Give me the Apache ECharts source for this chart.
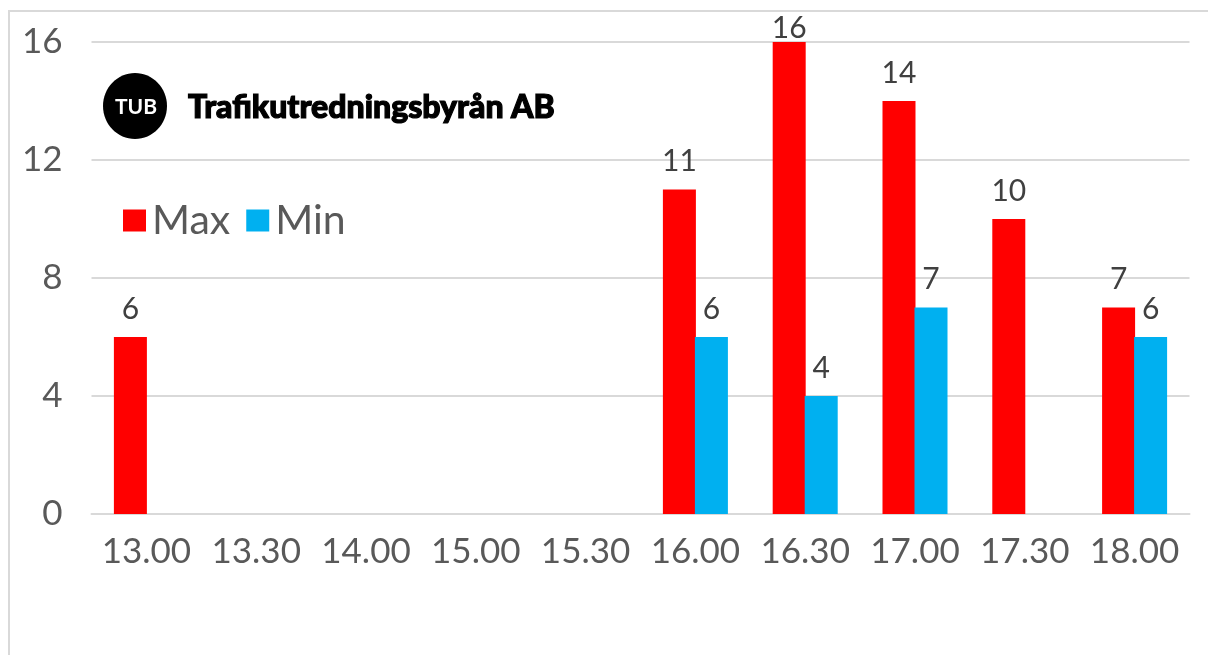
<!DOCTYPE html>
<html>
<head>
<meta charset="utf-8">
<style>html,body{margin:0;padding:0;background:#fff}#chart{width:1208px;height:655px}</style>
<script src="https://cdn.jsdelivr.net/npm/echarts@6/dist/echarts.min.js"></script>
</head>
<body>
<div id="chart"></div>
<script>
const times = ['13.00','13.30','14.00','15.00','15.30','16.00','16.30','17.00','17.30','18.00'];
const maxValues = [6,null,null,null,null,11,16,14,10,7];
const minValues = [null,null,null,null,null,6,4,7,null,6];
const yTicks = [0,4,8,12,16];

const fontFamily = 'Lato, "Open Sans", sans-serif';
const chart = echarts.init(document.getElementById('chart'), null, {renderer:'canvas'});

const valueLabel = {
  show:true, position:'top', distance:13,
  fontFamily, fontSize:30, color:'#404040'
};

// The tallest bar reaches the top of the plot, so its label sits tight against it.
const maxData = maxValues.map(v => v === 16 ? {value:v, label:{distance:-1}} : v);

chart.setOption({
  animation:false,
  backgroundColor:'#fff',
  grid:{left:91.5, right:18.5, top:42, bottom:141, containLabel:false},
  legend:{
    left:118, top:195, itemGap:16, itemWidth:23, itemHeight:22,
    icon:'rect', selectedMode:false,
    data:['Max','Min'],
    textStyle:{fontFamily, fontSize:41, color:'#595959', padding:[0,0,4,1]}
  },
  xAxis:{
    type:'category', data:times,
    axisTick:{show:false},
    axisLine:{lineStyle:{color:'#d9d9d9', width:2}},
    axisLabel:{fontFamily, fontSize:35, color:'#595959', margin:20, interval:0}
  },
  yAxis:{
    type:'value', min:0, max:16, interval:4,
    axisLine:{show:false}, axisTick:{show:false},
    splitLine:{lineStyle:{color:'#d9d9d9', width:2}},
    axisLabel:{
      fontFamily, fontSize:35, color:'#595959', margin:29,
      formatter:v => yTicks.includes(v) ? String(v) : ''
    }
  },
  series:[
    {name:'Max', type:'bar', data:maxData, barWidth:33, barGap:'-3%',
     itemStyle:{color:'#ff0000'}, label:valueLabel},
    {name:'Min', type:'bar', data:minValues, barWidth:33,
     itemStyle:{color:'#00b0f0'}, label:valueLabel}
  ],
  graphic:[
    {type:'rect', silent:true, z:0,
     shape:{x:9,y:11,width:1300,height:800},
     style:{fill:'none', stroke:'#d9d9d9', lineWidth:2}},
    {type:'ellipse', silent:true, z:10,
     shape:{cx:135,cy:106,rx:32,ry:33}, style:{fill:'#000'}},
    {type:'text', silent:true, z:11, x:136, y:107,
     style:{text:'TUB', fill:'#fff', fontFamily, fontWeight:700, fontSize:21,
            align:'center', verticalAlign:'middle'}},
    {type:'text', silent:true, z:11, x:188, y:108,
     style:{text:'Trafikutredningsbyrån AB', fill:'#000', stroke:'#000', lineWidth:1.2,
            fontFamily, fontWeight:900, fontSize:32,
            align:'left', verticalAlign:'middle'}}
  ]
});
</script>
</body>
</html>
